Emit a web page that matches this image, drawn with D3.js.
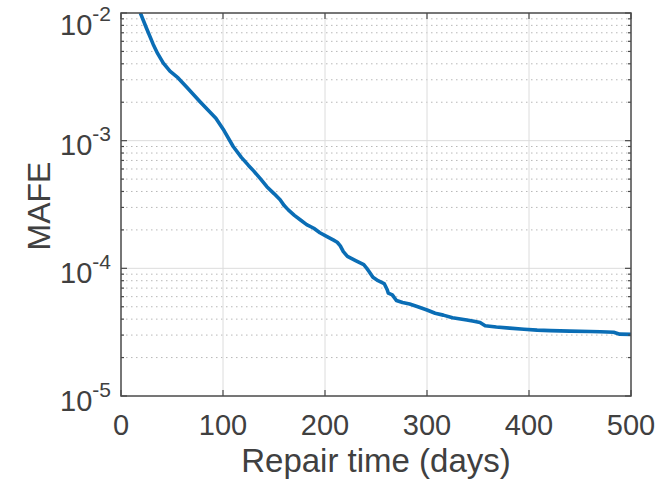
<!DOCTYPE html>
<html>
<head>
<meta charset="utf-8">
<script src="https://cdn.jsdelivr.net/npm/d3@7"></script>
<style>
  body { margin: 0; background: #fff; }
  text { font-family: "Liberation Sans", Arial, sans-serif; fill: #404040; }
</style>
</head>
<body>
<svg id="chart" width="667" height="485"></svg>
<script>
// curve
var repairDays = [19, 25, 31.5, 36, 41.5, 48, 56, 64.5, 71, 77.5, 85, 93, 101, 110, 118, 125, 130, 137, 143, 150,
  156, 160, 164, 170, 176, 182, 189, 195, 202, 208, 212, 215, 218, 222, 230, 238, 241, 243, 247, 252,
  258, 261, 262, 266, 270, 276, 283, 291, 300, 308, 316, 325, 339, 346, 352, 357, 368, 381, 395, 408,
  421, 440, 460, 470, 483, 489, 500];
var mafe = [1.0e-2, 7.6e-3, 5.7e-3, 4.8e-3, 4.05e-3, 3.5e-3, 3.1e-3, 2.62e-3, 2.3e-3, 2.02e-3, 1.75e-3, 1.5e-3, 1.2e-3, 9.0e-4, 7.4e-4, 6.4e-4, 5.8e-4, 5.0e-4, 4.36e-4, 3.85e-4,
  3.44e-4, 3.1e-4, 2.87e-4, 2.6e-4, 2.39e-4, 2.2e-4, 2.06e-4, 1.9e-4, 1.77e-4, 1.67e-4, 1.6e-4, 1.5e-4, 1.35e-4, 1.24e-4, 1.15e-4, 1.07e-4, 1.0e-4, 9.5e-5, 8.5e-5, 8.0e-5,
  7.6e-5, 6.8e-5, 6.4e-5, 6.2e-5, 5.6e-5, 5.4e-5, 5.25e-5, 5.0e-5, 4.72e-5, 4.45e-5, 4.3e-5, 4.1e-5, 3.94e-5, 3.85e-5, 3.76e-5, 3.55e-5, 3.47e-5, 3.4e-5, 3.33e-5, 3.28e-5,
  3.25e-5, 3.22e-5, 3.2e-5, 3.19e-5, 3.16e-5, 3.05e-5, 3.04e-5];
var xTicks = [0, 100, 200, 300, 400, 500];
var yExponents = [-5, -4, -3, -2];

var svg = d3.select("#chart");
var pL = 121, pR = 631, pT = 13, pB = 396;

var x = d3.scaleLinear().domain([0, 500]).range([pL, pR]);
var y = d3.scaleLog().domain([1e-5, 1e-2]).range([pB, pT]);

// minor values 2..9 per decade
var minorVals = [];
yExponents.slice(0, 3).forEach(function(e) {
  for (var k = 2; k <= 9; k++) minorVals.push(k * Math.pow(10, e));
});
var majorVals = yExponents.map(function(e) { return Math.pow(10, e); });

// grid
svg.append("g").selectAll("line").data(minorVals).enter().append("line")
  .attr("x1", pL).attr("x2", pR)
  .attr("y1", function(d) { return y(d); }).attr("y2", function(d) { return y(d); })
  .attr("stroke", "#b8b8b8").attr("stroke-width", 1).attr("stroke-dasharray", "1.5,3.5");
svg.append("g").selectAll("line").data(majorVals.slice(1, 3)).enter().append("line")
  .attr("x1", pL).attr("x2", pR)
  .attr("y1", function(d) { return y(d); }).attr("y2", function(d) { return y(d); })
  .attr("stroke", "#dcdcdc").attr("stroke-width", 1);
svg.append("g").selectAll("line").data(xTicks.slice(1, 5)).enter().append("line")
  .attr("y1", pT).attr("y2", pB)
  .attr("x1", function(d) { return x(d); }).attr("x2", function(d) { return x(d); })
  .attr("stroke", "#dcdcdc").attr("stroke-width", 1);

// the curve
svg.append("clipPath").attr("id", "clip").append("rect")
  .attr("x", pL).attr("y", pT).attr("width", pR - pL).attr("height", pB - pT);
var pts = repairDays.map(function(d, i) { return [d, mafe[i]]; });
svg.append("path").datum(pts)
  .attr("clip-path", "url(#clip)")
  .attr("fill", "none").attr("stroke", "#0a6db5").attr("stroke-width", 3.6)
  .attr("stroke-linejoin", "round")
  .attr("d", d3.line().x(function(d) { return x(d[0]); }).y(function(d) { return y(d[1]); }));

// box + inward ticks
var axisCol = "#4a4a4a";
svg.append("rect").attr("x", pL).attr("y", pT).attr("width", pR - pL).attr("height", pB - pT)
  .attr("fill", "none").attr("stroke", axisCol).attr("stroke-width", 1.5);
var ticks = svg.append("g").attr("stroke", axisCol).attr("stroke-width", 1.2);
xTicks.forEach(function(d) {
  ticks.append("line").attr("x1", x(d)).attr("x2", x(d)).attr("y1", pB).attr("y2", pB - 6);
  ticks.append("line").attr("x1", x(d)).attr("x2", x(d)).attr("y1", pT).attr("y2", pT + 6);
});
majorVals.forEach(function(d) {
  ticks.append("line").attr("x1", pL).attr("x2", pL + 6).attr("y1", y(d)).attr("y2", y(d));
  ticks.append("line").attr("x1", pR).attr("x2", pR - 6).attr("y1", y(d)).attr("y2", y(d));
});
minorVals.forEach(function(d) {
  ticks.append("line").attr("x1", pL).attr("x2", pL + 3).attr("y1", y(d)).attr("y2", y(d));
  ticks.append("line").attr("x1", pR).attr("x2", pR - 3).attr("y1", y(d)).attr("y2", y(d));
});

// x tick labels
svg.append("g").selectAll("text").data(xTicks).enter().append("text")
  .attr("x", function(d) { return x(d); }).attr("y", 435)
  .attr("text-anchor", "middle").attr("font-size", 29)
  .text(function(d) { return d; });

// y tick labels 10^e
yExponents.forEach(function(e) {
  var base = Math.max(y(Math.pow(10, e)) + 14.5, 35);
  var t = svg.append("text").attr("x", 111).attr("y", base).attr("text-anchor", "end").attr("font-size", 29);
  t.append("tspan").text("10");
  t.append("tspan").attr("dy", -14).attr("font-size", 21).text("-" + Math.abs(e));
});

// axis labels
svg.append("text").attr("x", (pL + pR) / 2).attr("y", 472)
  .attr("text-anchor", "middle").attr("font-size", 33).text("Repair time (days)");
svg.append("text").attr("transform", "translate(50,206) rotate(-90)")
  .attr("text-anchor", "middle").attr("font-size", 32).text("MAFE");
</script>
</body>
</html>
